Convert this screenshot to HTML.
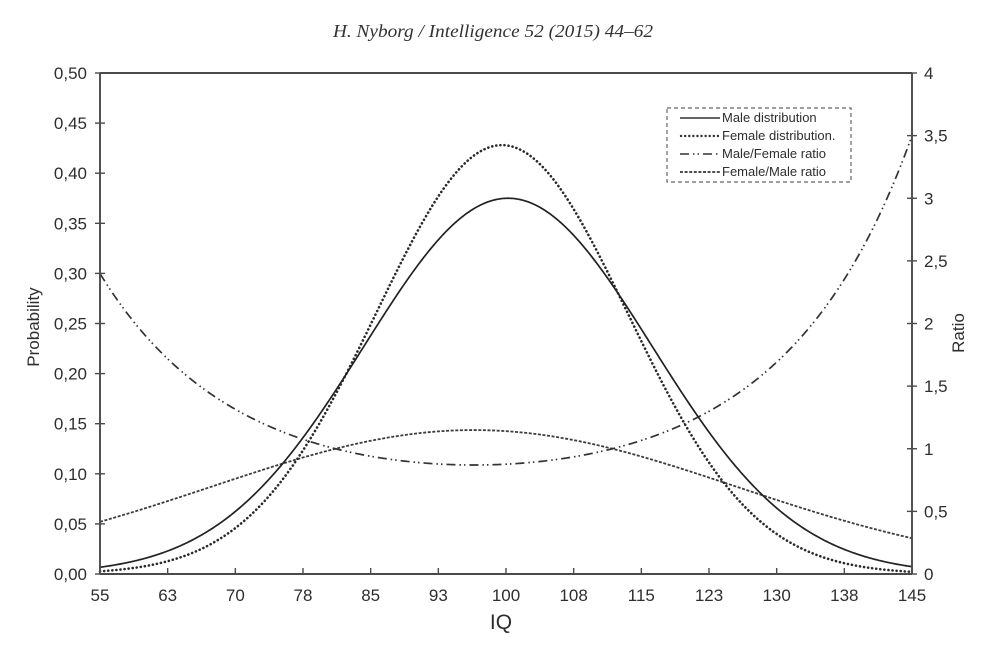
<!DOCTYPE html>
<html>
<head>
<meta charset="utf-8">
<style>
html,body{margin:0;padding:0;background:#fff;}
svg{display:block;}
text{font-family:"Liberation Sans",Arial,sans-serif;fill:#2e2e2e;}
</style>
</head>
<body>
<svg id="s" width="1000" height="647" viewBox="0 0 1000 647" xmlns="http://www.w3.org/2000/svg">
<rect width="1000" height="647" fill="#fff"/>
<text x="493" y="37" text-anchor="middle" font-size="18" font-style="italic" textLength="320" lengthAdjust="spacingAndGlyphs" style="font-family:'Liberation Serif',serif;fill:#333">H. Nyborg / Intelligence 52 (2015) 44–62</text>

<g id="curves"></g>

<!-- frame -->
<g stroke="#4a4a4a" stroke-width="1.9" fill="none">
<line x1="100" y1="73" x2="912" y2="73"/>
<line x1="100" y1="73" x2="100" y2="574"/>
<line x1="912" y1="73" x2="912" y2="574"/>
<line x1="100" y1="574" x2="912" y2="574"/>
</g>
<g id="ticks" stroke="#4a4a4a" stroke-width="1.4"></g>
<g id="labels" font-size="17"></g>

<text x="501" y="629" text-anchor="middle" font-size="21">IQ</text>
<text transform="translate(39,327) rotate(-90)" text-anchor="middle" font-size="17">Probability</text>
<text transform="translate(964,333) rotate(-90)" text-anchor="middle" font-size="17">Ratio</text>

<!-- legend -->
<rect x="667" y="108" width="184" height="74" fill="#fff" stroke="#666" stroke-width="1.2" stroke-dasharray="4 3"/>
<g fill="none" stroke="#333">
<line x1="680" y1="118" x2="720" y2="118" stroke-width="1.5"/>
<line x1="681" y1="136" x2="720" y2="136" stroke-width="2.4" stroke-linecap="round" stroke-dasharray="0.1 4"/>
<line x1="680" y1="154" x2="720" y2="154" stroke-width="1.6" stroke-dasharray="9 4 1.5 3 1.5 4"/>
<line x1="680" y1="172" x2="720" y2="172" stroke-width="1.7" stroke-dasharray="3 1.6"/>
</g>
<g font-size="13">
<text x="722" y="122">Male distribution</text>
<text x="722" y="140">Female distribution.</text>
<text x="722" y="158">Male/Female ratio</text>
<text x="722" y="176">Female/Male ratio</text>
</g>

<script>
(function(){
var NS="http://www.w3.org/2000/svg";
function el(tag,attrs,parent,txt){var e=document.createElementNS(NS,tag);for(var k in attrs)e.setAttribute(k,attrs[k]);if(txt!==undefined)e.textContent=txt;parent.appendChild(e);return e;}
var X=function(z){return 506+z*135.333;};
var YL=function(v){return 574-v*1002;};
var YR=function(r){return 574-r*125.25;};
function male(z){return 0.375*Math.exp(-Math.pow(z-0.015,2)/(2*1.064*1.064));}
function female(z){return 0.428*Math.exp(-Math.pow(z+0.03,2)/(2*0.932*0.932));}
function mf(z){return Math.exp(0.1328*Math.pow(z+0.237,2)-0.139);}
function fm(z){return 1/mf(z);}
function path(f,ymap){var d="";for(var i=0;i<=600;i++){var z=-3+i*0.01;d+=(i?"L":"M")+X(z).toFixed(2)+","+ymap(f(z)).toFixed(2);}return d;}
var g=document.getElementById("curves");
el("path",{d:path(fm,YR),fill:"none",stroke:"#3c3c3c","stroke-width":"1.8","stroke-dasharray":"3 1.6"},g);
el("path",{d:path(mf,YR),fill:"none",stroke:"#333","stroke-width":"1.7","stroke-dasharray":"9 4 1.5 3 1.5 4"},g);
el("path",{d:path(female,YL),fill:"none",stroke:"#2a2a2a","stroke-width":"2.6","stroke-linecap":"round","stroke-dasharray":"0.1 4"},g);
el("path",{d:path(male,YL),fill:"none",stroke:"#222","stroke-width":"1.7"},g);

var t=document.getElementById("ticks");
var lab=document.getElementById("labels");
for(var i=0;i<=10;i++){var v=i*0.05;var y=YL(v);
 el("line",{x1:95,y1:y,x2:105,y2:y},t);
 el("text",{x:87,y:y+6,"text-anchor":"end"},lab,v.toFixed(2).replace(".",","));}
for(var i=0;i<=8;i++){var r=i*0.5;var y=YR(r);
 el("line",{x1:907,y1:y,x2:917,y2:y},t);
 var s=(r%1===0)?String(r):String(r).replace(".",",");
 el("text",{x:924,y:y+6,"text-anchor":"start"},lab,s);}
var xl=["55","63","70","78","85","93","100","108","115","123","130","138","145"];
for(var i=0;i<13;i++){var x=100+i*812/12;
 if(i>0&&i<12) el("line",{x1:x,y1:574,x2:x,y2:568},t);
 el("text",{x:x,y:601,"text-anchor":"middle"},lab,xl[i]);}
})();
</script>
</svg>
</body>
</html>
